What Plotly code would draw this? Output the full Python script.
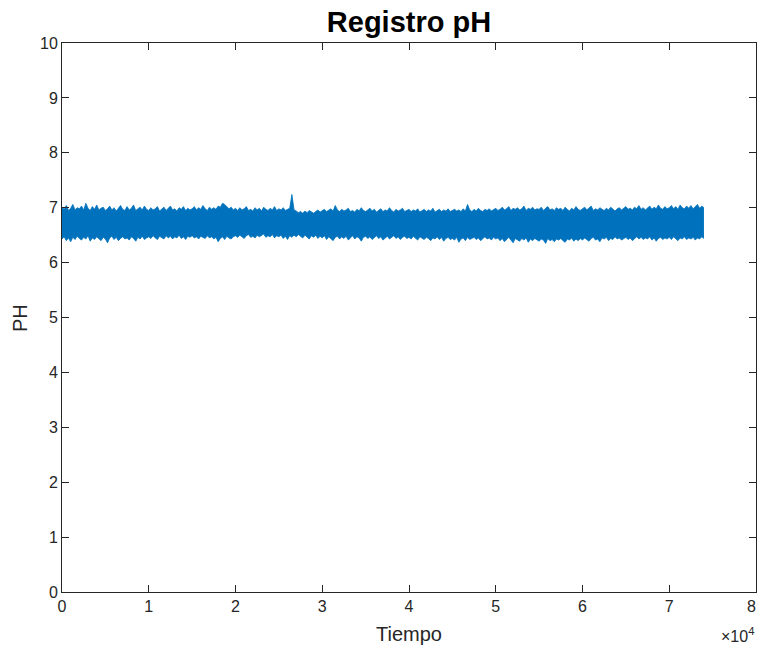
import plotly.graph_objects as go

# Sampling grid (time) and envelope of the pH record
tiempo = list(range(0, 74001, 250))

ph_max = [
    7.01, 6.97, 7.04, 6.95, 6.99, 7.06, 6.96, 7.00, 6.98, 7.03,
    6.96, 7.08, 6.99, 6.95, 7.02, 6.97, 7.05, 6.96, 6.99, 7.01,
    6.95, 6.98, 7.03, 6.96, 7.00, 6.94, 6.99, 7.04, 6.97, 6.95,
    7.02, 6.96, 6.99, 7.05, 6.95, 6.98, 7.01, 6.96, 7.03, 6.97,
    6.95, 7.00, 6.96, 6.98, 7.02, 6.94, 6.97, 7.01, 6.95, 6.99,
    7.03, 6.96, 6.98, 6.94, 7.00, 6.97, 7.02, 6.95, 6.99, 6.96,
    6.98, 7.02, 6.96, 7.00, 6.97, 7.04, 6.98, 6.95, 7.01, 6.97,
    7.00, 6.97, 7.03, 7.01, 7.08, 7.06, 7.02, 6.98, 7.01, 6.96,
    6.99, 6.95, 7.00, 6.96, 6.98, 7.02, 6.95, 6.97, 6.94, 7.00,
    6.96, 6.99, 6.94, 7.01, 6.97, 6.95, 6.99, 6.96, 7.02, 6.95,
    6.98, 6.96, 7.00, 6.95, 6.97, 6.99, 7.24, 6.96, 6.94, 6.91,
    6.93, 6.90, 6.94, 6.91, 6.95, 6.92, 6.90, 6.93, 6.96, 6.92,
    6.94, 6.97, 6.93, 6.95, 6.98, 6.94, 7.04, 6.96, 6.93, 6.97,
    6.94, 6.96, 6.99, 6.93, 6.95, 6.92, 6.97, 6.94, 7.00, 6.95,
    6.93, 6.96, 6.99, 6.94, 6.97, 6.92, 6.95, 6.98, 6.93, 6.96,
    6.94, 7.00, 6.95, 6.92, 6.97, 6.94, 6.96, 6.99, 6.93, 6.95,
    6.97, 6.93, 6.96, 6.94, 6.98, 6.92, 6.95, 6.97, 6.93, 6.96,
    6.94, 6.99, 6.92, 6.95, 6.97, 6.93, 6.96, 6.94, 6.98, 6.93,
    6.95, 6.97, 6.94, 6.96, 6.93, 6.98, 6.94, 7.06, 6.96, 6.93,
    6.97, 6.94, 6.99, 6.95, 6.93, 6.97, 6.95, 6.98, 6.94, 6.96,
    6.99, 6.95, 6.97, 7.01, 6.96, 6.98, 7.02, 6.95, 6.99, 6.97,
    7.00, 6.96, 6.98, 7.03, 6.95, 6.99, 6.97, 7.01, 6.96, 6.98,
    6.97, 7.01, 6.95, 6.99, 7.02, 6.96, 6.98, 6.95, 7.00, 6.97,
    6.99, 6.95, 7.01, 6.97, 6.94, 6.99, 6.96, 7.02, 6.97, 6.95,
    6.98, 7.01, 6.96, 6.99, 7.03, 6.95, 6.98, 6.96, 7.00, 6.97,
    6.95, 6.99, 6.96, 7.01, 6.97, 6.94, 6.98, 7.00, 6.96, 6.99,
    7.02, 6.97, 6.99, 6.96, 7.01, 6.98, 7.04, 6.97, 7.00, 6.96,
    6.99, 7.03, 6.97, 7.01, 6.98, 7.05, 6.99, 6.97, 7.02, 6.98,
    7.00, 7.04, 6.98, 7.02, 6.97, 7.05, 7.00, 6.98, 7.03, 6.99,
    7.04, 6.98, 7.02, 7.06, 6.99, 7.03, 7.00,
]

ph_min = [
    6.43, 6.47, 6.40, 6.45, 6.38, 6.46, 6.42, 6.48, 6.44, 6.41,
    6.46, 6.43, 6.49, 6.39, 6.45, 6.42, 6.47, 6.44, 6.40, 6.46,
    6.43, 6.36, 6.45, 6.48, 6.42, 6.46, 6.40, 6.44, 6.47, 6.43,
    6.45, 6.41, 6.47, 6.44, 6.39, 6.46, 6.43, 6.48, 6.42, 6.45,
    6.47, 6.44, 6.49, 6.45, 6.42, 6.48, 6.46, 6.43, 6.49, 6.45,
    6.48, 6.43, 6.47, 6.45, 6.50, 6.44, 6.47, 6.42, 6.48, 6.46,
    6.49, 6.45, 6.47, 6.43, 6.48, 6.46, 6.44, 6.49, 6.45, 6.47,
    6.43, 6.46, 6.38, 6.44, 6.47, 6.42, 6.48, 6.45, 6.43, 6.47,
    6.49, 6.46, 6.50, 6.47, 6.44, 6.49, 6.51, 6.46, 6.48, 6.45,
    6.50, 6.47, 6.49, 6.52, 6.46, 6.49, 6.47, 6.51, 6.45, 6.49,
    6.47, 6.50, 6.44, 6.48, 6.42, 6.49, 6.46, 6.50, 6.47, 6.51,
    6.48, 6.45, 6.50, 6.47, 6.43, 6.49, 6.46, 6.50, 6.44, 6.48,
    6.45, 6.49, 6.42, 6.47, 6.44, 6.40, 6.46, 6.48, 6.43, 6.47,
    6.44, 6.48, 6.41, 6.46, 6.49, 6.43, 6.47, 6.45, 6.39, 6.46,
    6.48, 6.44, 6.47, 6.42, 6.46, 6.49, 6.44, 6.47, 6.41, 6.45,
    6.48, 6.43, 6.46, 6.49, 6.44, 6.47, 6.42, 6.46, 6.48, 6.44,
    6.46, 6.43, 6.48, 6.44, 6.41, 6.47, 6.45, 6.42, 6.46, 6.44,
    6.40, 6.45, 6.43, 6.47, 6.42, 6.46, 6.39, 6.44, 6.46, 6.42,
    6.44, 6.41, 6.46, 6.37, 6.43, 6.45, 6.40, 6.46, 6.42, 6.44,
    6.46, 6.42, 6.45, 6.40, 6.44, 6.47, 6.43, 6.45, 6.41, 6.46,
    6.43, 6.45, 6.40, 6.44, 6.38, 6.43, 6.46, 6.41, 6.36, 6.44,
    6.42, 6.39, 6.44, 6.41, 6.45, 6.37, 6.43, 6.40, 6.44, 6.42,
    6.39, 6.43, 6.41, 6.35, 6.44, 6.40, 6.42, 6.38, 6.43, 6.41,
    6.44, 6.40, 6.37, 6.43, 6.41, 6.45, 6.39, 6.43, 6.40, 6.44,
    6.41, 6.45, 6.42, 6.39, 6.44, 6.46, 6.41, 6.43, 6.38, 6.45,
    6.43, 6.46, 6.40, 6.44, 6.42, 6.47, 6.43, 6.45, 6.41, 6.44,
    6.46, 6.42, 6.45, 6.40, 6.44, 6.47, 6.43, 6.46, 6.42, 6.45,
    6.43, 6.47, 6.41, 6.45, 6.39, 6.44, 6.46, 6.42, 6.45, 6.43,
    6.46, 6.42, 6.47, 6.44, 6.40, 6.45, 6.43, 6.47, 6.42, 6.45,
    6.43, 6.46, 6.41, 6.45, 6.43, 6.47, 6.44,
]

x_tickvals = [0, 10000, 20000, 30000, 40000, 50000, 60000, 70000, 80000]
x_ticktext = ["0", "1", "2", "3", "4", "5", "6", "7", "8"]
y_tickvals = [0, 1, 2, 3, 4, 5, 6, 7, 8, 9, 10]

BLUE = "#0072BD"
AX = "#262626"
FONT = "Liberation Sans, Arial, sans-serif"

fig = go.Figure()
fig.add_trace(go.Scatter(x=tiempo, y=ph_min, mode="lines",
                         line=dict(color=BLUE, width=0.8), showlegend=False,
                         hoverinfo="skip"))
fig.add_trace(go.Scatter(x=tiempo, y=ph_max, mode="lines", fill="tonexty",
                         fillcolor=BLUE, line=dict(color=BLUE, width=0.8),
                         showlegend=False, hoverinfo="skip"))

axis_common = dict(showgrid=False, zeroline=False, showline=True,
                   linecolor=AX, linewidth=1, ticks="inside", ticklen=7,
                   tickcolor=AX, mirror="allticks",
                   tickfont=dict(family=FONT, size=16, color=AX))

fig.update_xaxes(range=[0, 80000], tickvals=x_tickvals, ticktext=x_ticktext,
                 **axis_common)
fig.update_yaxes(range=[0, 10], tickvals=y_tickvals, **axis_common)

fig.update_layout(
    width=759, height=647,
    margin=dict(l=62, r=3, t=43, b=55),
    paper_bgcolor="white", plot_bgcolor="white",
    title=dict(text="<b>Registro pH</b>", x=0.5, xref="paper",
               y=1 - 22 / 647, yref="container", yanchor="middle",
               xanchor="center",
               font=dict(family=FONT, size=29, color="black")),
    annotations=[
        dict(text=x_ticktext[-1], xref="x", yref="paper", x=x_tickvals[-1],
             y=-0.008, xanchor="right", xshift=2, yanchor="top",
             showarrow=False, font=dict(family=FONT, size=16, color=AX)),
        dict(text="Tiempo", xref="paper", yref="paper", x=0.5, y=-0.0765,
             xanchor="center", yanchor="middle", showarrow=False,
             font=dict(family=FONT, size=20, color=AX)),
        dict(text="PH", xref="paper", yref="paper", x=-0.0605, y=0.499,
             xanchor="center", yanchor="middle", textangle=-90,
             showarrow=False, font=dict(family=FONT, size=20, color=AX)),
        dict(text="×10<sup>4</sup>", xref="paper", yref="paper", x=1.0,
             y=-0.078, xanchor="right", yanchor="middle", showarrow=False,
             font=dict(family=FONT, size=16, color=AX)),
    ],
)

fig.write_html("out.html")
